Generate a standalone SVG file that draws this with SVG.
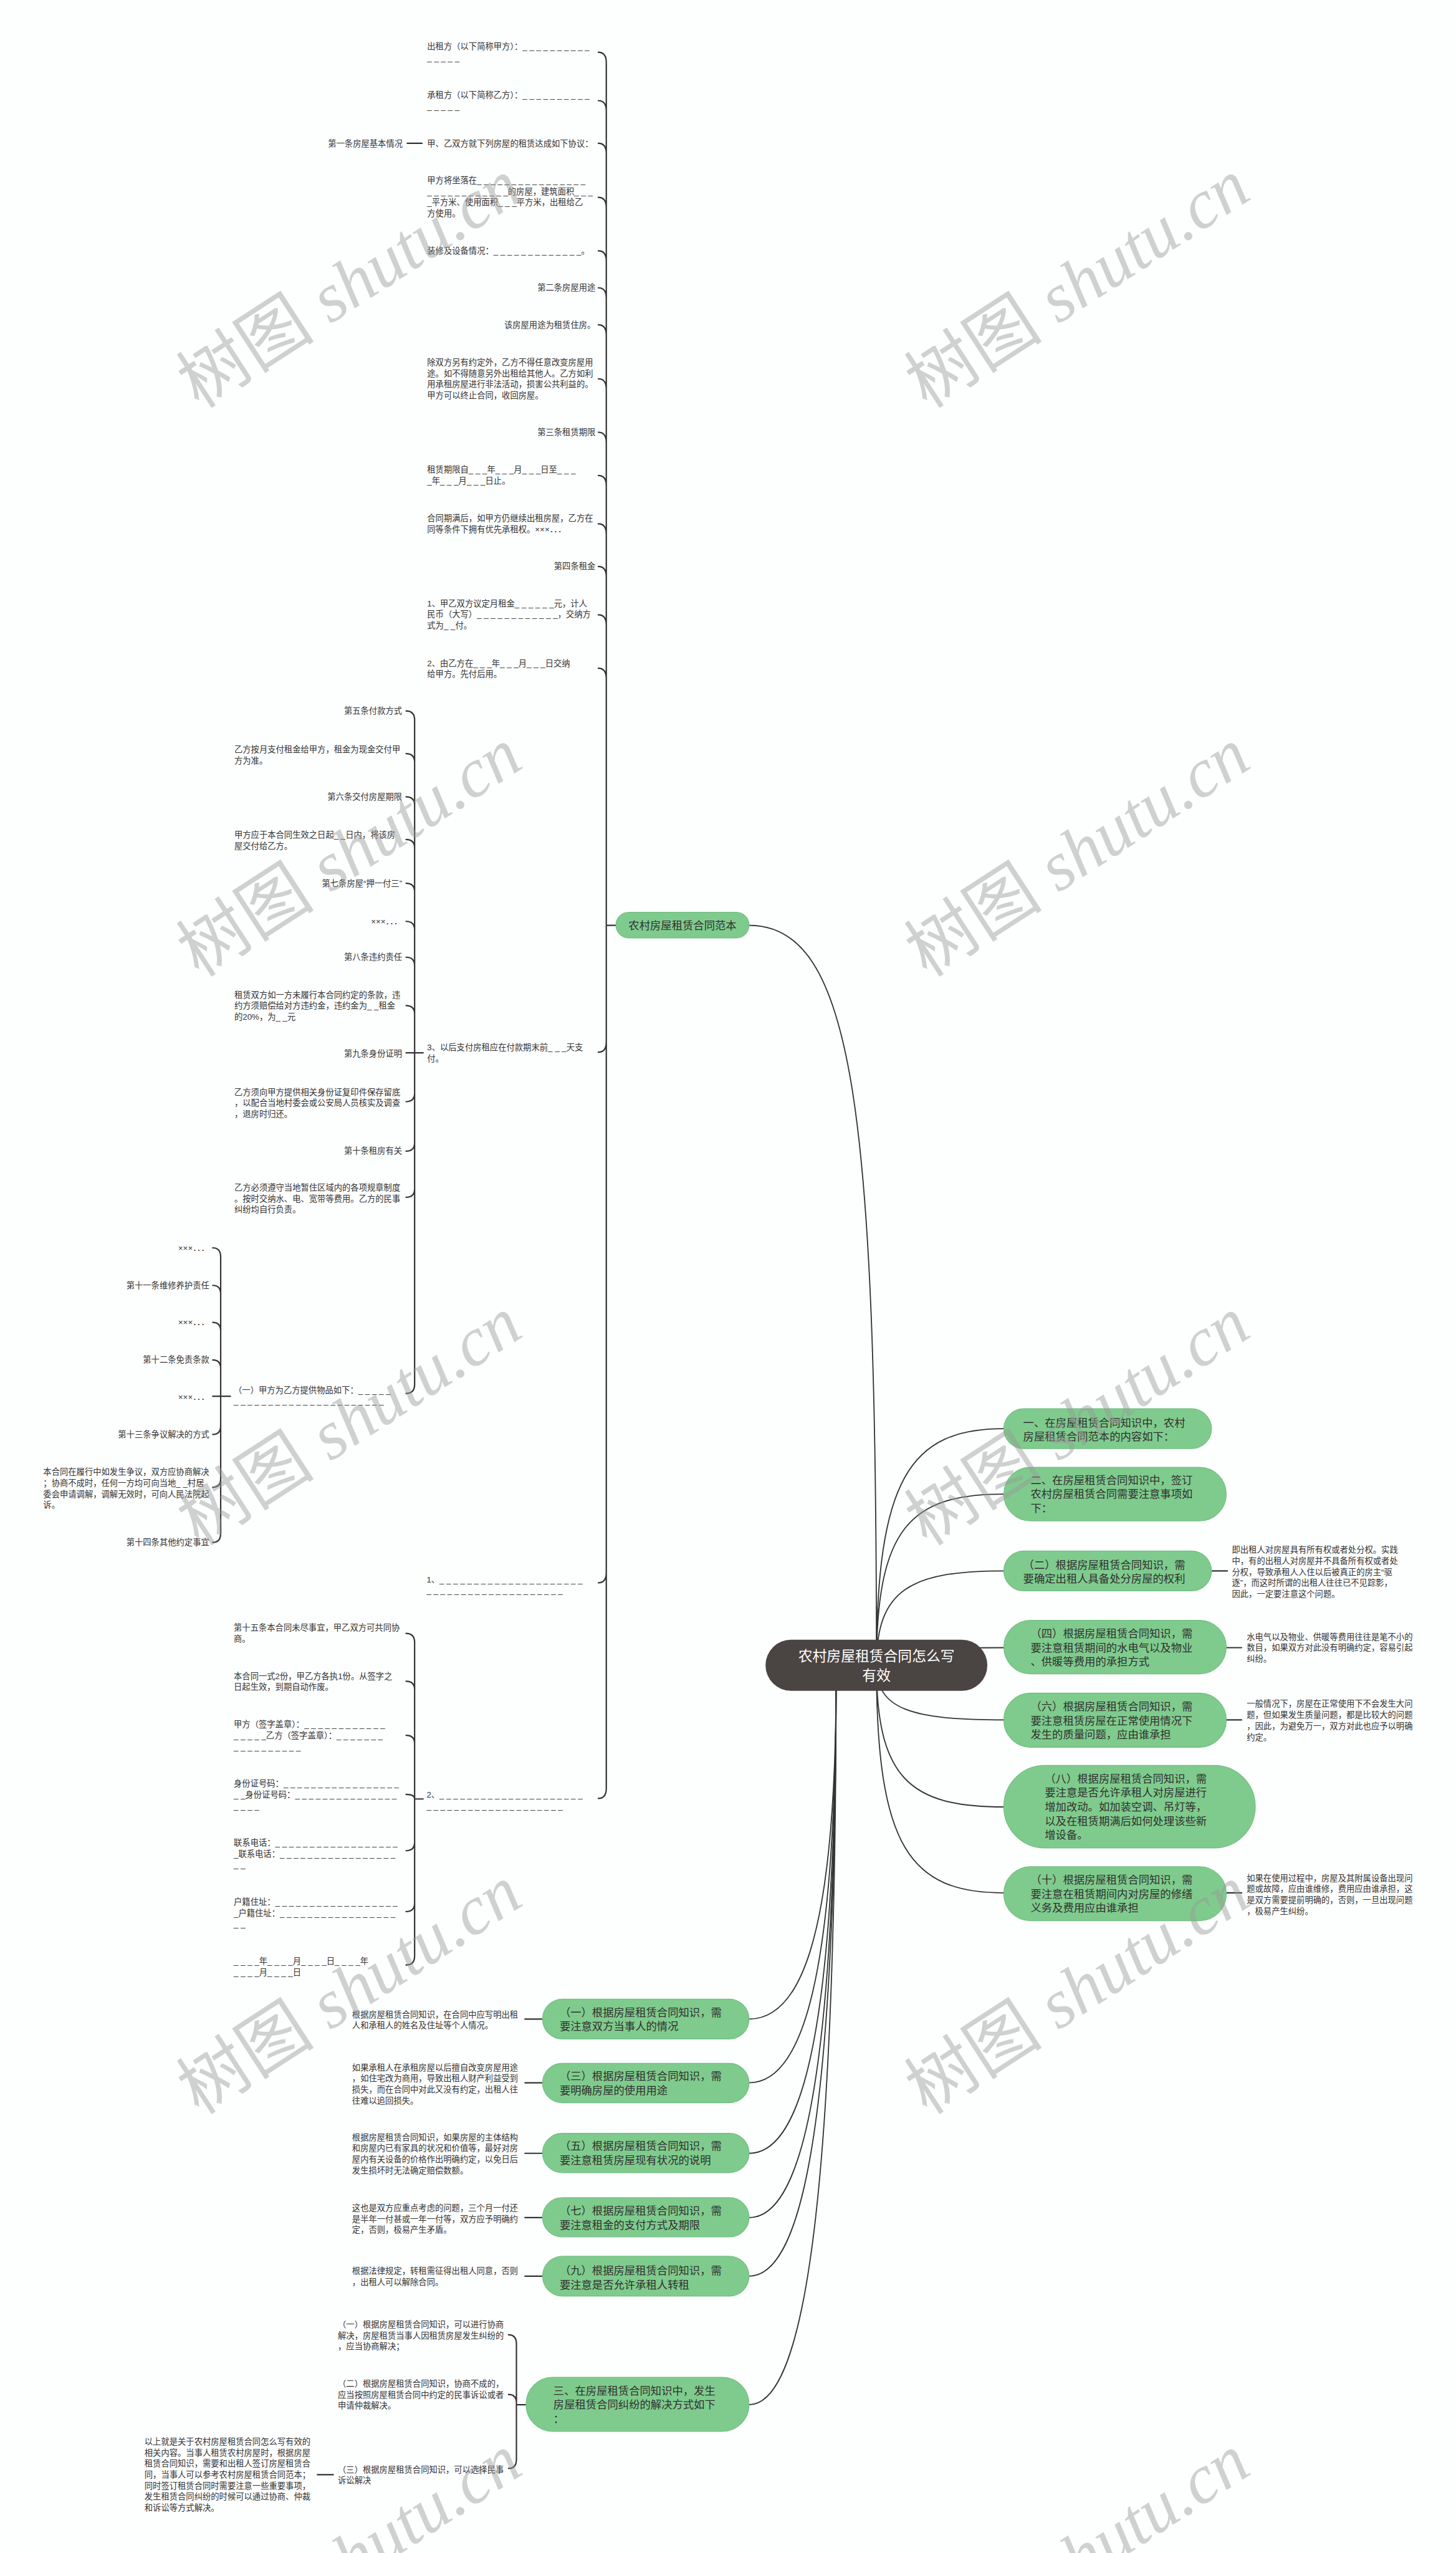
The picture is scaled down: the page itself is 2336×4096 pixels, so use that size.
<svg xmlns="http://www.w3.org/2000/svg" width="2336" height="4096" viewBox="0 0 2336 4096">
<style>
.t{font-family:"Liberation Sans","Noto Sans CJK SC",sans-serif;font-size:14.6px;fill:#333}
.e{text-anchor:end}
.n{font-family:"Liberation Sans","Noto Sans CJK SC",sans-serif;font-size:19px;fill:#2f2f2f}
.c{font-family:"Liberation Sans","Noto Sans CJK SC",sans-serif;font-size:25px;fill:#fff;text-anchor:middle}
.g{fill:#7fcb8d;stroke:#74c083;stroke-width:1.5}
.k{fill:none;stroke:#333;stroke-width:2.4;stroke-linecap:round}
.cv{fill:none;stroke:#333;stroke-width:2}
.wm{font-family:"Liberation Serif","Noto Sans CJK SC",serif;font-size:122px;fill:#999;opacity:0.45}
</style>
<rect width="2336" height="4096" fill="#fdfefe"/>
<g transform="scale(0.9125)">
<g id="connectors">
<path class="cv" d="M1541 2928C1541 1950 1500 1627 1317 1627"/>
<path class="cv" d="M1541 2928C1541 2600 1600 2512 1765 2512"/>
<path class="cv" d="M1541 2928C1541 2687 1600 2627 1765 2627"/>
<path class="cv" d="M1541 2928C1541 2795 1600 2762 1765 2762"/>
<path class="cv" d="M1541 2928C1600 2897 1650 2897 1765 2897"/>
<path class="cv" d="M1541 2928C1541 3005 1600 3024 1765 3024"/>
<path class="cv" d="M1541 2928C1541 3127 1600 3177 1765 3177"/>
<path class="cv" d="M1541 2928C1541 3248 1600 3328 1765 3328"/>
<path class="cv" d="M1470 2950C1470 3430 1400 3550 1317 3550"/>
<path class="cv" d="M1470 2950C1470 3520 1400 3662 1317 3662"/>
<path class="cv" d="M1470 2950C1470 3619 1400 3786 1317 3786"/>
<path class="cv" d="M1470 2950C1470 3709 1400 3899 1317 3899"/>
<path class="cv" d="M1470 2950C1470 3792 1400 4002 1317 4002"/>
<path class="cv" d="M1470 2950C1470 3972 1400 4228 1317 4228"/>
<path class="k" stroke-width="3" d="M1052 92Q1066 92 1066 110M1052 177Q1066 177 1066 195M1052 252Q1066 252 1066 270M1052 347Q1066 347 1066 365M1052 441Q1066 441 1066 459M1052 506Q1066 506 1066 524M1052 571Q1066 571 1066 589M1052 666Q1066 666 1066 684M1052 760Q1066 760 1066 778M1052 836Q1066 836 1066 854M1052 921Q1066 921 1066 939M1052 996Q1066 996 1066 1014M1052 1081Q1066 1081 1066 1099M1052 1175Q1066 1175 1066 1193M1052 1850Q1066 1850 1066 1832M1052 2783Q1066 2783 1066 2765M1052 3162Q1066 3162 1066 3144M1066 110V3144M1066 1627H1083"/>
<path class="k" d="M714 1250Q729 1250 729 1266V2434Q729 2450 714 2450M714 1325Q729 1325 729 1340M714 1401Q729 1401 729 1416M714 1476Q729 1476 729 1491M714 1553Q729 1553 729 1568M714 1620Q729 1620 729 1635M714 1683Q729 1683 729 1698M714 1768Q729 1768 729 1783M714 1851H744M714 1937Q729 1937 729 1922M714 2024Q729 2024 729 2009M714 2105Q729 2105 729 2090"/>
<path class="k" d="M374 2194Q388 2194 388 2210V2696Q388 2712 374 2712M374 2260Q388 2260 388 2275M374 2325Q388 2325 388 2340M374 2391Q388 2391 388 2406M374 2455H405M374 2522Q388 2522 388 2507M374 2615Q388 2615 388 2600"/>
<path class="k" d="M714 2872Q729 2872 729 2888V3439Q729 3455 714 3455M714 2956Q729 2956 729 2971M714 3051Q729 3051 729 3066M714 3155Q729 3155 729 3163M729 3163H744M714 3254Q729 3254 729 3239M714 3361Q729 3361 729 3346"/>
<path class="k" d="M894 4105Q908 4105 908 4121V4324Q908 4340 894 4340M894 4210Q908 4210 908 4225M908 4228H925"/>
<path class="k" d="M716 252H742M558 4351H586M923 3550H954M923 3662H954M923 3786H954M923 3899H954M923 4002H954M2130 2762H2158M2156 2897H2183M2156 3024H2183M2156 3328H2183"/>
</g>
<g id="center"><rect x="1346" y="2883" width="390" height="90" rx="45" fill="#4a4443"/><text class="c"><tspan x="1541" y="2921">农村房屋租赁合同怎么写</tspan><tspan x="1541" y="2954">有效</tspan></text></g>
<g id="fanben"><rect class="g" x="1083" y="1604" width="234" height="45" rx="22.5"/><text class="n" x="1200" y="1634" text-anchor="middle">农村房屋租赁合同范本</text></g>
<g id="trunk-items">
<text class="t" x="751" y="87"><tspan>出租方（以下简称甲方）：_ _ _ _ _ _ _ _ _ _</tspan><tspan x="751" dy="19.4">_ _ _ _ _</tspan></text>
<text class="t" x="751" y="172"><tspan>承租方（以下简称乙方）：_ _ _ _ _ _ _ _ _ _</tspan><tspan x="751" dy="19.4">_ _ _ _ _</tspan></text>
<text class="t" x="751" y="257">甲、乙双方就下列房屋的租赁达成如下协议：</text>
<text class="t e" x="708" y="257">第一条房屋基本情况</text>
<text class="t" x="751" y="322"><tspan>甲方将坐落在_ _ _ _ _ _ _ _ _ _ _ _ _ _ _ _</tspan><tspan x="751" dy="19.4">_ _ _ _ _ _ _ _ _ _ _ _的房屋，建筑面积_ _ _</tspan><tspan x="751" dy="19.4">_平方米、使用面积_ _ _平方米，出租给乙</tspan><tspan x="751" dy="19.4">方使用。</tspan></text>
<text class="t" x="751" y="446">装修及设备情况：_ _ _ _ _ _ _ _ _ _ _ _ _。</text>
<text class="t e" x="1047" y="511">第二条房屋用途</text>
<text class="t e" x="1047" y="576">该房屋用途为租赁住房。</text>
<text class="t" x="751" y="642"><tspan>除双方另有约定外，乙方不得任意改变房屋用</tspan><tspan x="751" dy="19.4">途。如不得随意另外出租给其他人。乙方如利</tspan><tspan x="751" dy="19.4">用承租房屋进行非法活动，损害公共利益的。</tspan><tspan x="751" dy="19.4">甲方可以终止合同，收回房屋。</tspan></text>
<text class="t e" x="1047" y="765">第三条租赁期限</text>
<text class="t" x="751" y="831"><tspan>租赁期限自_ _ _年_ _ _月_ _ _日至_ _ _</tspan><tspan x="751" dy="19.4">_年_ _ _月_ _ _日止。</tspan></text>
<text class="t" x="751" y="916"><tspan>合同期满后，如甲方仍继续出租房屋，乙方在</tspan><tspan x="751" dy="19.4">同等条件下拥有优先承租权。×××．．．</tspan></text>
<text class="t e" x="1047" y="1001">第四条租金</text>
<text class="t" x="751" y="1066"><tspan>1、甲乙双方议定月租金_ _ _ _ _ _元，计人</tspan><tspan x="751" dy="19.4">民币（大写）_ _ _ _ _ _ _ _ _ _ _ _，交纳方</tspan><tspan x="751" dy="19.4">式为_ _付。</tspan></text>
<text class="t" x="751" y="1171"><tspan>2、由乙方在_ _ _年_ _ _月_ _ _日交纳</tspan><tspan x="751" dy="19.4">给甲方。先付后用。</tspan></text>
<text class="t" x="751" y="1847"><tspan>3、以后支付房租应在付款期末前_ _ _天支</tspan><tspan x="751" dy="19.4">付。</tspan></text>
<text class="t" x="750" y="2782"><tspan>1、_ _ _ _ _ _ _ _ _ _ _ _ _ _ _ _ _ _ _ _ _</tspan><tspan x="750" dy="19.4">_ _ _ _ _ _ _ _ _ _ _ _ _ _ _ _ _ _ _ _</tspan></text>
<text class="t" x="750" y="3161"><tspan>2、_ _ _ _ _ _ _ _ _ _ _ _ _ _ _ _ _ _ _ _ _</tspan><tspan x="750" dy="19.4">_ _ _ _ _ _ _ _ _ _ _ _ _ _ _ _ _ _ _ _</tspan></text>
</g>
<g id="item3-children">
<text class="t e" x="707" y="1255">第五条付款方式</text>
<text class="t" x="412" y="1323"><tspan>乙方按月支付租金给甲方，租金为现金交付甲</tspan><tspan x="412" dy="19.4">方为准。</tspan></text>
<text class="t e" x="707" y="1406">第六条交付房屋期限</text>
<text class="t" x="412" y="1473"><tspan>甲方应于本合同生效之日起_ _日内，将该房</tspan><tspan x="412" dy="19.4">屋交付给乙方。</tspan></text>
<text class="t e" x="707" y="1558">第七条房屋“押一付三”</text>
<text class="t e" x="707" y="1625">×××．．．</text>
<text class="t e" x="707" y="1688">第八条违约责任</text>
<text class="t" x="412" y="1754"><tspan>租赁双方如一方未履行本合同约定的条款，违</tspan><tspan x="412" dy="19.4">约方须赔偿给对方违约金，违约金为_ _租金</tspan><tspan x="412" dy="19.4">的20%，为_ _元</tspan></text>
<text class="t e" x="707" y="1858">第九条身份证明</text>
<text class="t" x="412" y="1925"><tspan>乙方须向甲方提供相关身份证复印件保存留底</tspan><tspan x="412" dy="19.4">，以配合当地村委会或公安局人员核实及调查</tspan><tspan x="412" dy="19.4">，退房时归还。</tspan></text>
<text class="t e" x="707" y="2029">第十条租房有关</text>
<text class="t" x="412" y="2093"><tspan>乙方必须遵守当地暂住区域内的各项规章制度</tspan><tspan x="412" dy="19.4">。按时交纳水、电、宽带等费用。乙方的民事</tspan><tspan x="412" dy="19.4">纠纷均自行负责。</tspan></text>
<text class="t" x="411" y="2449"><tspan>（一）甲方为乙方提供物品如下：_ _ _ _ _</tspan><tspan x="411" dy="19.4">_ _ _ _ _ _ _ _ _ _ _ _ _ _ _ _ _ _ _ _ _ _</tspan></text>
</g>
<g id="yi-children">
<text class="t e" x="368" y="2199">×××．．．</text>
<text class="t e" x="368" y="2265">第十一条维修养护责任</text>
<text class="t e" x="368" y="2330">×××．．．</text>
<text class="t e" x="368" y="2396">第十二条免责条款</text>
<text class="t e" x="368" y="2461">×××．．．</text>
<text class="t e" x="368" y="2527">第十三条争议解决的方式</text>
<text class="t" x="76" y="2593"><tspan>本合同在履行中如发生争议，双方应协商解决</tspan><tspan x="76" dy="19.4">；协商不成时，任何一方均可向当地_ _村居</tspan><tspan x="76" dy="19.4">委会申请调解，调解无效时，可向人民法院起</tspan><tspan x="76" dy="19.4">诉。</tspan></text>
<text class="t e" x="368" y="2717">第十四条其他约定事宜</text>
</g>
<g id="item2-children">
<text class="t" x="411" y="2867"><tspan>第十五条本合同未尽事宜，甲乙双方可共同协</tspan><tspan x="411" dy="19.4">商。</tspan></text>
<text class="t" x="411" y="2952"><tspan>本合同一式2份，甲乙方各执1份。从签字之</tspan><tspan x="411" dy="19.4">日起生效，到期自动作废。</tspan></text>
<text class="t" x="411" y="3037"><tspan>甲方（签字盖章）：_ _ _ _ _ _ _ _ _ _ _ _</tspan><tspan x="411" dy="19.4">_ _ _ _ _乙方（签字盖章）：_ _ _ _ _ _ _</tspan><tspan x="411" dy="19.4">_ _ _ _ _ _ _ _ _ _</tspan></text>
<text class="t" x="411" y="3141"><tspan>身份证号码：_ _ _ _ _ _ _ _ _ _ _ _ _ _ _ _ _</tspan><tspan x="411" dy="19.4">_ _身份证号码：_ _ _ _ _ _ _ _ _ _ _ _ _ _ _</tspan><tspan x="411" dy="19.4">_ _ _ _</tspan></text>
<text class="t" x="411" y="3245"><tspan>联系电话：_ _ _ _ _ _ _ _ _ _ _ _ _ _ _ _ _ _</tspan><tspan x="411" dy="19.4">_联系电话：_ _ _ _ _ _ _ _ _ _ _ _ _ _ _ _ _</tspan><tspan x="411" dy="19.4">_ _</tspan></text>
<text class="t" x="411" y="3349"><tspan>户籍住址：_ _ _ _ _ _ _ _ _ _ _ _ _ _ _ _ _ _</tspan><tspan x="411" dy="19.4">_户籍住址：_ _ _ _ _ _ _ _ _ _ _ _ _ _ _ _ _</tspan><tspan x="411" dy="19.4">_ _</tspan></text>
<text class="t" x="411" y="3453"><tspan>_ _ _ _年_ _ _ _月_ _ _ _日_ _ _ _年</tspan><tspan x="411" dy="19.4">_ _ _ _月_ _ _ _日</tspan></text>
</g>
<g id="right-nodes">
<rect class="g" x="1765" y="2477" width="365" height="70" rx="35"/>
<text class="n" x="1799" y="2508"><tspan>一、在房屋租赁合同知识中，农村</tspan><tspan x="1799" dy="24.8">房屋租赁合同范本的内容如下：</tspan></text>
<rect class="g" x="1765" y="2580" width="391" height="94" rx="47"/>
<text class="n" x="1812" y="2609"><tspan>二、在房屋租赁合同知识中，签订</tspan><tspan x="1812" dy="24.8">农村房屋租赁合同需要注意事项如</tspan><tspan x="1812" dy="24.8">下：</tspan></text>
<rect class="g" x="1765" y="2727" width="365" height="70" rx="35"/>
<text class="n" x="1799" y="2758"><tspan>（二）根据房屋租赁合同知识，需</tspan><tspan x="1799" dy="24.8">要确定出租人具备处分房屋的权利</tspan></text>
<text class="t" x="2166" y="2730"><tspan>即出租人对房屋具有所有权或者处分权。实践</tspan><tspan x="2166" dy="19.4">中，有的出租人对房屋并不具备所有权或者处</tspan><tspan x="2166" dy="19.4">分权，导致承租人入住以后被真正的房主“驱</tspan><tspan x="2166" dy="19.4">逐”，而这时所谓的出租人往往已不见踪影，</tspan><tspan x="2166" dy="19.4">因此，一定要注意这个问题。</tspan></text>
<rect class="g" x="1765" y="2849" width="391" height="94" rx="47"/>
<text class="n" x="1812" y="2879"><tspan>（四）根据房屋租赁合同知识，需</tspan><tspan x="1812" dy="24.8">要注意租赁期间的水电气以及物业</tspan><tspan x="1812" dy="24.8">、供暖等费用的承担方式</tspan></text>
<text class="t" x="2192" y="2883"><tspan>水电气以及物业、供暖等费用往往是笔不小的</tspan><tspan x="2192" dy="19.4">数目，如果双方对此没有明确约定，容易引起</tspan><tspan x="2192" dy="19.4">纠纷。</tspan></text>
<rect class="g" x="1765" y="2977" width="391" height="95" rx="47"/>
<text class="n" x="1812" y="3007"><tspan>（六）根据房屋租赁合同知识，需</tspan><tspan x="1812" dy="24.8">要注意租赁房屋在正常使用情况下</tspan><tspan x="1812" dy="24.8">发生的质量问题，应由谁承担</tspan></text>
<text class="t" x="2192" y="3001"><tspan>一般情况下，房屋在正常使用下不会发生大问</tspan><tspan x="2192" dy="19.4">题，但如果发生质量问题，都是比较大的问题</tspan><tspan x="2192" dy="19.4">，因此，为避免万一，双方对此也应予以明确</tspan><tspan x="2192" dy="19.4">约定。</tspan></text>
<rect class="g" x="1765" y="3104" width="442" height="145" rx="72"/>
<text class="n" x="1837" y="3134"><tspan>（八）根据房屋租赁合同知识，需</tspan><tspan x="1837" dy="24.8">要注意是否允许承租人对房屋进行</tspan><tspan x="1837" dy="24.8">增加改动。如加装空调、吊灯等，</tspan><tspan x="1837" dy="24.8">以及在租赁期满后如何处理该些新</tspan><tspan x="1837" dy="24.8">增设备。</tspan></text>
<rect class="g" x="1765" y="3282" width="391" height="95" rx="47"/>
<text class="n" x="1812" y="3312"><tspan>（十）根据房屋租赁合同知识，需</tspan><tspan x="1812" dy="24.8">要注意在租赁期间内对房屋的修缮</tspan><tspan x="1812" dy="24.8">义务及费用应由谁承担</tspan></text>
<text class="t" x="2192" y="3307"><tspan>如果在使用过程中，房屋及其附属设备出现问</tspan><tspan x="2192" dy="19.4">题或故障，应由谁维修，费用应由谁承担，这</tspan><tspan x="2192" dy="19.4">是双方需要提前明确的，否则，一旦出现问题</tspan><tspan x="2192" dy="19.4">，极易产生纠纷。</tspan></text>
</g>
<g id="left-nodes">
<rect class="g" x="954" y="3515" width="363" height="70" rx="35"/>
<text class="n" x="984" y="3545"><tspan>（一）根据房屋租赁合同知识，需</tspan><tspan x="984" dy="24.8">要注意双方当事人的情况</tspan></text>
<text class="t" x="619" y="3547"><tspan>根据房屋租赁合同知识，在合同中应写明出租</tspan><tspan x="619" dy="19.4">人和承租人的姓名及住址等个人情况。</tspan></text>
<rect class="g" x="954" y="3628" width="363" height="69" rx="34.5"/>
<text class="n" x="984" y="3657"><tspan>（三）根据房屋租赁合同知识，需</tspan><tspan x="984" dy="24.8">要明确房屋的使用用途</tspan></text>
<text class="t" x="619" y="3640"><tspan>如果承租人在承租房屋以后擅自改变房屋用途</tspan><tspan x="619" dy="19.4">，如住宅改为商用，导致出租人财产利益受到</tspan><tspan x="619" dy="19.4">损失，而在合同中对此又没有约定，出租人往</tspan><tspan x="619" dy="19.4">往难以追回损失。</tspan></text>
<rect class="g" x="954" y="3751" width="363" height="69" rx="34.5"/>
<text class="n" x="984" y="3780"><tspan>（五）根据房屋租赁合同知识，需</tspan><tspan x="984" dy="24.8">要注意租赁房屋现有状况的说明</tspan></text>
<text class="t" x="619" y="3763"><tspan>根据房屋租赁合同知识，如果房屋的主体结构</tspan><tspan x="619" dy="19.4">和房屋内已有家具的状况和价值等，最好对房</tspan><tspan x="619" dy="19.4">屋内有关设备的价格作出明确约定，以免日后</tspan><tspan x="619" dy="19.4">发生损坏时无法确定赔偿数额。</tspan></text>
<rect class="g" x="954" y="3864" width="363" height="69" rx="34.5"/>
<text class="n" x="984" y="3894"><tspan>（七）根据房屋租赁合同知识，需</tspan><tspan x="984" dy="24.8">要注意租金的支付方式及期限</tspan></text>
<text class="t" x="619" y="3887"><tspan>这也是双方应重点考虑的问题，三个月一付还</tspan><tspan x="619" dy="19.4">是半年一付甚或一年一付等，双方应予明确约</tspan><tspan x="619" dy="19.4">定，否则，极易产生矛盾。</tspan></text>
<rect class="g" x="954" y="3967" width="363" height="70" rx="35"/>
<text class="n" x="984" y="3999"><tspan>（九）根据房屋租赁合同知识，需</tspan><tspan x="984" dy="24.8">要注意是否允许承租人转租</tspan></text>
<text class="t" x="619" y="3998"><tspan>根据法律规定，转租需征得出租人同意，否则</tspan><tspan x="619" dy="19.4">，出租人可以解除合同。</tspan></text>
<rect class="g" x="925" y="4180" width="392" height="95" rx="47"/>
<text class="n" x="973" y="4210"><tspan>三、在房屋租赁合同知识中，发生</tspan><tspan x="973" dy="24.8">房屋租赁合同纠纷的解决方式如下</tspan><tspan x="973" dy="24.8">：</tspan></text>
<text class="t" x="594" y="4092"><tspan>（一）根据房屋租赁合同知识，可以进行协商</tspan><tspan x="594" dy="19.4">解决，房屋租赁当事人因租赁房屋发生纠纷的</tspan><tspan x="594" dy="19.4">，应当协商解决；</tspan></text>
<text class="t" x="594" y="4196"><tspan>（二）根据房屋租赁合同知识，协商不成的，</tspan><tspan x="594" dy="19.4">应当按照房屋租赁合同中约定的民事诉讼或者</tspan><tspan x="594" dy="19.4">申请仲裁解决。</tspan></text>
<text class="t" x="594" y="4347"><tspan>（三）根据房屋租赁合同知识，可以选择民事</tspan><tspan x="594" dy="19.4">诉讼解决</tspan></text>
<text class="t" x="254" y="4298"><tspan>以上就是关于农村房屋租赁合同怎么写有效的</tspan><tspan x="254" dy="19.4">相关内容。当事人租赁农村房屋时，根据房屋</tspan><tspan x="254" dy="19.4">租赁合同知识，需要和出租人签订房屋租赁合</tspan><tspan x="254" dy="19.4">同，当事人可以参考农村房屋租赁合同范本；</tspan><tspan x="254" dy="19.4">同时签订租赁合同时需要注意一些重要事项，</tspan><tspan x="254" dy="19.4">发生租赁合同纠纷的时候可以通过协商、仲裁</tspan><tspan x="254" dy="19.4">和诉讼等方式解决。</tspan></text>
</g>
<g id="watermarks">
<text class="wm" transform="translate(350 720) rotate(-33)">树图 <tspan font-style="italic">shutu.cn</tspan></text>
<text class="wm" transform="translate(1630 720) rotate(-33)">树图 <tspan font-style="italic">shutu.cn</tspan></text>
<text class="wm" transform="translate(350 1720) rotate(-33)">树图 <tspan font-style="italic">shutu.cn</tspan></text>
<text class="wm" transform="translate(1630 1720) rotate(-33)">树图 <tspan font-style="italic">shutu.cn</tspan></text>
<text class="wm" transform="translate(350 2720) rotate(-33)">树图 <tspan font-style="italic">shutu.cn</tspan></text>
<text class="wm" transform="translate(1630 2720) rotate(-33)">树图 <tspan font-style="italic">shutu.cn</tspan></text>
<text class="wm" transform="translate(350 3720) rotate(-33)">树图 <tspan font-style="italic">shutu.cn</tspan></text>
<text class="wm" transform="translate(1630 3720) rotate(-33)">树图 <tspan font-style="italic">shutu.cn</tspan></text>
<text class="wm" transform="translate(350 4720) rotate(-33)">树图 <tspan font-style="italic">shutu.cn</tspan></text>
<text class="wm" transform="translate(1630 4720) rotate(-33)">树图 <tspan font-style="italic">shutu.cn</tspan></text>
</g>
</g>
</svg>
